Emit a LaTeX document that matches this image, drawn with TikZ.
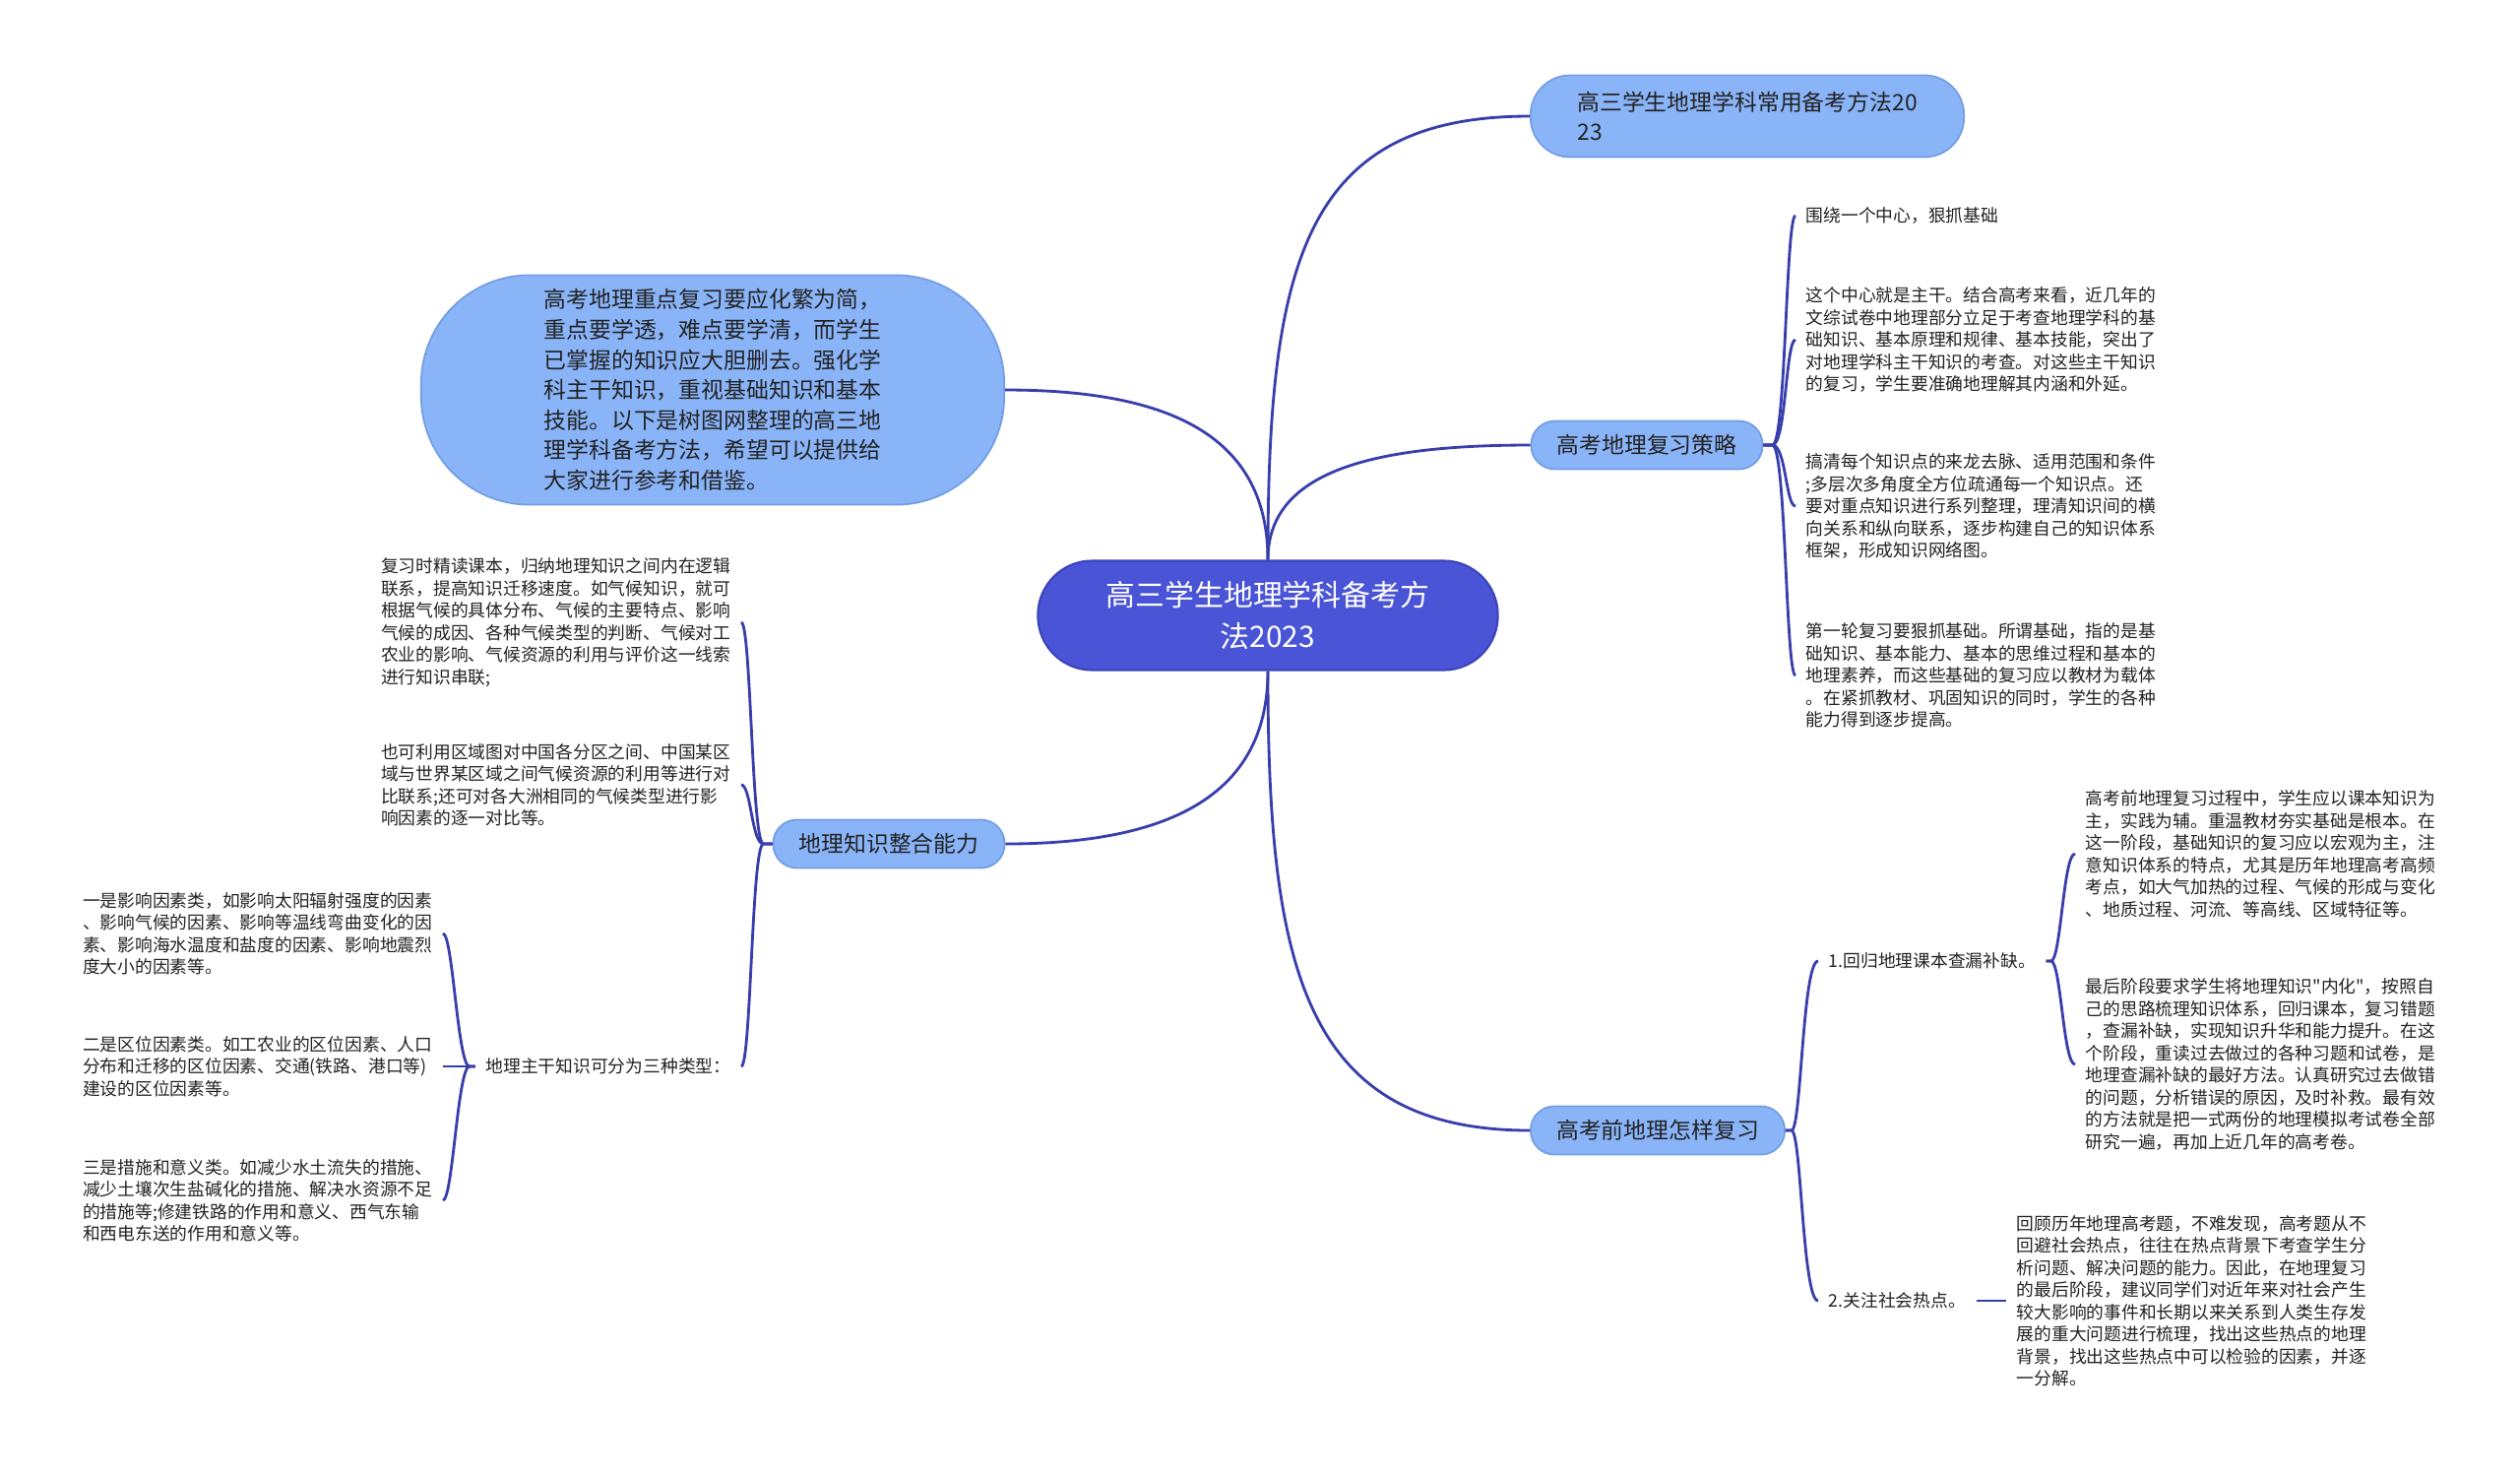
\documentclass[tikz,border=0pt]{standalone}
\usepackage{fontspec}
\setmainfont{Noto Sans CJK SC}[Ligatures=TeXOff]
\usepackage{tikz}
\usepackage{xcolor}
\definecolor{rootblue}{RGB}{74,84,214}
\definecolor{rootedge}{RGB}{60,68,186}
\definecolor{topicblue}{RGB}{138,180,248}
\definecolor{topicedge}{RGB}{116,158,228}
\definecolor{linkblue}{RGB}{56,62,172}
\definecolor{inkdark}{RGB}{34,34,34}

\begin{document}
\begin{tikzpicture}[x=0.01cm, y=-0.01cm,
  root/.style={rectangle, rounded corners=5.5mm, fill=rootblue, draw=rootedge, line width=0.6pt,
    text=white, minimum width=46.7mm, minimum height=11.1mm, align=center,
    font=\fontsize{8.5}{11.7}\selectfont},
  topic/.style={rectangle, rounded corners=2.4mm, fill=topicblue, draw=topicedge, line width=0.5pt,
    text=inkdark, minimum height=4.9mm, align=left, font=\fontsize{6.5}{8.5}\selectfont},
  leaf/.style={inner sep=1mm, text=inkdark, align=left, font=\fontsize{5.05}{6.4}\selectfont},
  link/.style={draw=linkblue, line width=0.8pt}]
\fill[white] (0,0) rectangle (2560,1499);
\useasboundingbox (0,0) rectangle (2560,1499);

\node[root] (root) at (1288,625) {高三学生地理学科备考方\\法2023};
\node[topic, minimum width=44mm, minimum height=8.3mm, rounded corners=4mm] (plan) at (1775,118)
  {高三学生地理学科常用备考方法20\\23};
\node[topic, minimum width=59.2mm, minimum height=23.3mm, rounded corners=11mm,
  font=\fontsize{6.5}{8.7}\selectfont] (intro) at (724,396)
  {高考地理重点复习要应化繁为简，\\重点要学透，难点要学清，而学生\\已掌握的知识应大胆删去。强化学\\科主干知识，重视基础知识和基本\\技能。以下是树图网整理的高三地\\理学科备考方法，希望可以提供给\\大家进行参考和借鉴。};
\node[topic, minimum width=23.5mm] (strategy) at (1673,452) {高考地理复习策略};
\node[topic, minimum width=23.5mm] (merge) at (903,857) {地理知识整合能力};
\node[topic, minimum width=25.8mm] (before) at (1684,1148) {高考前地理怎样复习};

\node[leaf, anchor=west] (s1) at (1824,219) {围绕一个中心，狠抓基础};
\node[leaf, anchor=west] (s2) at (1824,345)
  {这个中心就是主干。结合高考来看，近几年的\\文综试卷中地理部分立足于考查地理学科的基\\础知识、基本原理和规律、基本技能，突出了\\对地理学科主干知识的考查。对这些主干知识\\的复习，学生要准确地理解其内涵和外延。};
\node[leaf, anchor=west] (s3) at (1824,514)
  {搞清每个知识点的来龙去脉、适用范围和条件\\;多层次多角度全方位疏通每一个知识点。还\\要对重点知识进行系列整理，理清知识间的横\\向关系和纵向联系，逐步构建自己的知识体系\\框架，形成知识网络图。};
\node[leaf, anchor=west] (s4) at (1824,686)
  {第一轮复习要狠抓基础。所谓基础，指的是基\\础知识、基本能力、基本的思维过程和基本的\\地理素养，而这些基础的复习应以教材为载体\\。在紧抓教材、巩固知识的同时，学生的各种\\能力得到逐步提高。};

\node[leaf, anchor=east] (m1) at (753,632)
  {复习时精读课本，归纳地理知识之间内在逻辑\\联系，提高知识迁移速度。如气候知识，就可\\根据气候的具体分布、气候的主要特点、影响\\气候的成因、各种气候类型的判断、气候对工\\农业的影响、气候资源的利用与评价这一线索\\进行知识串联;};
\node[leaf, anchor=east] (m2) at (753,797)
  {也可利用区域图对中国各分区之间、中国某区\\域与世界某区域之间气候资源的利用等进行对\\比联系;还可对各大洲相同的气候类型进行影\\响因素的逐一对比等。};
\node[leaf, anchor=east] (m3) at (753,1083) {地理主干知识可分为三种类型：};
\node[leaf, anchor=east] (k1) at (450,948)
  {一是影响因素类，如影响太阳辐射强度的因素\\、影响气候的因素、影响等温线弯曲变化的因\\素、影响海水温度和盐度的因素、影响地震烈\\度大小的因素等。};
\node[leaf, anchor=east] (k2) at (450,1083)
  {二是区位因素类。如工农业的区位因素、人口\\分布和迁移的区位因素、交通(铁路、港口等)\\建设的区位因素等。};
\node[leaf, anchor=east] (k3) at (450,1219)
  {三是措施和意义类。如减少水土流失的措施、\\减少土壤次生盐碱化的措施、解决水资源不足\\的措施等;修建铁路的作用和意义、西气东输\\和西电东送的作用和意义等。};

\node[leaf, anchor=west] (b1) at (1847,976) {1.回归地理课本查漏补缺。};
\node[leaf, anchor=west] (b2) at (1847,1321) {2.关注社会热点。};
\node[leaf, anchor=west] (c1) at (2108,867)
  {高考前地理复习过程中，学生应以课本知识为\\主，实践为辅。重温教材夯实基础是根本。在\\这一阶段，基础知识的复习应以宏观为主，注\\意知识体系的特点，尤其是历年地理高考高频\\考点，如大气加热的过程、气候的形成与变化\\、地质过程、河流、等高线、区域特征等。};
\node[leaf, anchor=west] (c2) at (2108,1081)
  {最后阶段要求学生将地理知识"内化"，按照自\\己的思路梳理知识体系，回归课本，复习错题\\，查漏补缺，实现知识升华和能力提升。在这\\个阶段，重读过去做过的各种习题和试卷，是\\地理查漏补缺的最好方法。认真研究过去做错\\的问题，分析错误的原因，及时补救。最有效\\的方法就是把一式两份的地理模拟考试卷全部\\研究一遍，再加上近几年的高考卷。};
\node[leaf, anchor=west] (d1) at (2038,1321)
  {回顾历年地理高考题，不难发现，高考题从不\\回避社会热点，往往在热点背景下考查学生分\\析问题、解决问题的能力。因此，在地理复习\\的最后阶段，建议同学们对近年来对社会产生\\较大影响的事件和长期以来关系到人类生存发\\展的重大问题进行梳理，找出这些热点的地理\\背景，找出这些热点中可以检验的因素，并逐\\一分解。};

\draw[link] (root.north) .. controls +(0,-300) and +(-230,0) .. (plan.west);
\draw[link] (root.north) .. controls +(0,-130) and +(160,0) .. (intro.east);
\draw[link] (root.north) .. controls +(0,-90) and +(-160,0) .. (strategy.west);
\draw[link] (root.south) .. controls +(0,130) and +(160,0) .. (merge.east);
\draw[link] (root.south) .. controls +(0,300) and +(-230,0) .. (before.west);

\foreach \leaf in {s1,s2,s3,s4}
  \draw[link] (strategy.east) -- ++(9,0) .. controls +(14,0) and +(-10,0) .. (\leaf.west);
\foreach \leaf in {m1,m2,m3}
  \draw[link] (merge.west) -- ++(-9,0) .. controls +(-12,0) and +(10,0) .. (\leaf.east);
\foreach \leaf in {k1,k2,k3}
  \draw[link] (m3.west) -- ++(-6,0) .. controls +(-12,0) and +(10,0) .. (\leaf.east);
\foreach \leaf in {b1,b2}
  \draw[link] (before.east) -- ++(6,0) .. controls +(10,0) and +(-16,0) .. (\leaf.west);
\foreach \leaf in {c1,c2}
  \draw[link] (b1.east) -- ++(5,0) .. controls +(10,0) and +(-12,0) .. (\leaf.west);
\draw[link] (b2.east) -- (d1.west);
\end{tikzpicture}
\end{document}
